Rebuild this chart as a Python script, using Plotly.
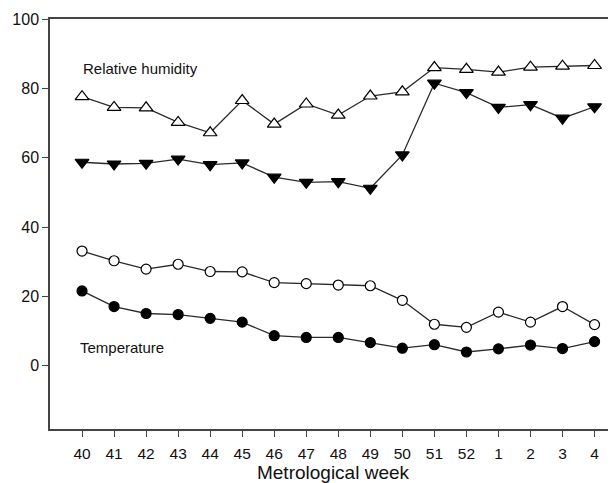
import plotly.graph_objects as go

weeks = ["40", "41", "42", "43", "44", "45", "46", "47", "48", "49", "50", "51", "52", "1", "2", "3", "4"]
rh_max = [77.6, 74.5, 74.4, 70.2, 67.2, 76.5, 69.7, 75.5, 72.3, 77.8, 79.0, 86.0, 85.5, 84.7, 86.1, 86.4, 86.6]
rh_min = [58.7, 58.2, 58.4, 59.6, 58.0, 58.5, 54.4, 52.9, 53.1, 51.2, 60.8, 81.5, 78.8, 74.5, 75.3, 71.4, 74.7]
t_max = [33.1, 30.3, 27.9, 29.3, 27.2, 27.1, 24.0, 23.7, 23.3, 23.1, 18.9, 12.0, 11.1, 15.5, 12.6, 17.1, 11.9]
t_min = [21.6, 17.1, 15.1, 14.8, 13.7, 12.6, 8.7, 8.2, 8.2, 6.7, 5.1, 6.1, 4.0, 4.9, 6.0, 5.0, 7.0]
y_ticks = [0, 20, 40, 60, 80, 100]

LINE = "#2a2a2a"
FONT = "Liberation Sans, Arial, sans-serif"

fig = go.Figure()

def add(series, symbol, fill, size):
    fig.add_trace(go.Scatter(
        x=weeks, y=series, mode="lines+markers",
        line=dict(color=LINE, width=1.3),
        marker=dict(symbol=symbol, size=size, color=fill,
                    line=dict(color="#000000", width=1.2)),
        showlegend=False, cliponaxis=False))

add(rh_max, "triangle-up", "white", 12)
add(rh_min, "triangle-down", "black", 12)
add(t_max, "circle", "white", 10)
add(t_min, "circle", "black", 10)

fig.add_annotation(x=-0.03, xref="x", y=85.6, yref="y", text="Relative humidity",
                   showarrow=False, xanchor="left", yanchor="middle",
                   font=dict(family=FONT, size=15, color="#111"))
fig.add_annotation(x=-0.12, xref="x", y=5.2, yref="y", text="Temperature",
                   showarrow=False, xanchor="left", yanchor="middle",
                   font=dict(family=FONT, size=15, color="#111"))

fig.update_layout(
    width=608, height=475,
    margin=dict(l=41.5, r=0, t=11, b=54),
    paper_bgcolor="white", plot_bgcolor="white",
    font=dict(family=FONT, size=16, color="#111"),
    xaxis=dict(type="category", range=[-1, 16.67], showgrid=False, zeroline=False,
               automargin=False,
               showline=True, linecolor="#444", linewidth=1.5, mirror=True,
               ticks="outside", ticklen=6, tickcolor="#444", tickwidth=1.2,
               tickfont=dict(size=15.5), ticklabelstandoff=4,
               title=dict(text="Metrological week", font=dict(size=19), standoff=3)),
    yaxis=dict(range=[-18.2, 100], showgrid=False, zeroline=False,
               automargin=False,
               showline=True, linecolor="#444", linewidth=1.5,
               ticks="outside", ticklen=6, tickcolor="#444", tickwidth=1.2,
               tickvals=y_ticks, tickfont=dict(size=16)),
)

fig.write_html("out.html")
